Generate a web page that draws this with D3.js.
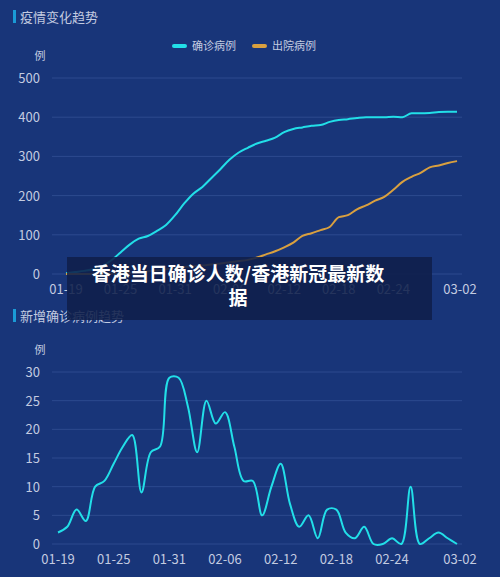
<!DOCTYPE html>
<html><head><meta charset="utf-8">
<script src="https://cdn.jsdelivr.net/npm/d3@7.9.0/dist/d3.min.js"></script>
<style>
body{margin:0;background:#183579;font-family:"Noto Sans CJK SC",sans-serif;}
</style></head><body>
<svg id="c" width="500" height="577"></svg>
<script>
// 2020-01-19 .. 2020-03-02
const dates = d3.timeDays(new Date(2020,0,19), new Date(2020,2,3));
const tickLabels = ['01-19','01-25','01-31','02-06','02-12','02-18','02-24','03-02'];
const confirmed = [2,5,8,12,20,35,55,75,90,97,110,125,150,180,205,222,245,268,292,310,322,333,340,348,362,370,374,378,380,388,393,395,398,400,400,400,401,400,410,410,411,413,414,414];
const discharged = [0,0,0,0,1,1,2,3,5,7,9,12,15,18,20,22,24,27,30,33,36,42,50,58,68,80,97,104,112,120,145,150,165,175,187,197,215,235,248,258,272,277,283,288];
const daily = [2,3,6,4,10,11,14,17,19,9,16,17,29,29,24,16,25,21,23,17,11,11,5,10,14,7,3,5,1,6,6,2,1,3,0,0,1,0,10,0,1,2,1,0];

const svg = d3.select('#c');
const txt = '#c3cbe0';

function panel(top, title, yMax, yStep, x0, series, legend) {
  svg.append('rect').attr('x',13).attr('y',top-7).attr('width',3).attr('height',13).attr('fill','#1a9ad6');
  svg.append('text').attr('x',20).attr('y',top+5).attr('fill',txt).attr('font-size',13).text(title);
  const y0 = top === 17 ? 274 : 544, y1 = top === 17 ? 78 : 372;
  const x = d3.scaleTime().domain([dates[0], dates[dates.length-1]]).range([x0, 457]);
  const y = d3.scaleLinear().domain([0, yMax]).range([y0, y1]);
  const g = svg.append('g');
  g.selectAll('line.grid').data(d3.range(0, yMax+1, yStep)).join('line')
    .attr('x1', 52).attr('x2', 462).attr('y1', d=>y(d)).attr('y2', d=>y(d))
    .attr('stroke','#2d4a8f').attr('stroke-width',1);
  g.selectAll('text.yl').data(d3.range(0, yMax+1, yStep)).join('text')
    .attr('x', 40).attr('y', d=>y(d)+5).attr('text-anchor','end')
    .attr('fill',txt).attr('font-size',13).text(d=>d);
  g.append('text').attr('x',40).attr('y',y1-18).attr('text-anchor','middle').attr('fill',txt).attr('font-size',11).text('例');
  const parse = d3.timeParse('%Y-%m-%d');
  g.selectAll('text.xl').data(tickLabels).join('text')
    .attr('x', d=>x(parse('2020-'+d)) + (d==='03-02'?3:0))
    .attr('y', y0+20).attr('text-anchor','middle').attr('fill',txt).attr('font-size',13).text(d=>d);
  series.forEach(s => {
    const line = d3.line().x((d,i)=>x(dates[i])).y(d=>y(d)).curve(s.curve);
    g.append('path').datum(s.values).attr('d', line).attr('fill','none')
      .attr('stroke', s.color).attr('stroke-width', 2);
  });
  if (legend) {
    let lx = 172;
    series.forEach(s => {
      svg.append('rect').attr('x',lx).attr('y',44).attr('width',15).attr('height',4).attr('rx',2).attr('fill',s.color);
      svg.append('text').attr('x',lx+20).attr('y',50).attr('fill',txt).attr('font-size',11).text(s.name);
      lx += 80;
    });
  }
}

panel(17, '疫情变化趋势', 500, 100, 66, [
  {name:'确诊病例', values: confirmed, color:'#22dfe8', curve: d3.curveMonotoneX},
  {name:'出院病例', values: discharged, color:'#d9a03f', curve: d3.curveMonotoneX}
], true);
panel(316, '新增确诊病例趋势', 30, 5, 58, [
  {name:'新增', values: daily, color:'#22dfe8', curve: d3.curveCatmullRom.alpha(0.5)}
], false);

// caption banner
svg.append('rect').attr('x',67).attr('y',257).attr('width',365).attr('height',63).attr('fill','#0f1f4a').attr('opacity',0.88);
svg.append('text').attr('x',238).attr('y',281).attr('text-anchor','middle').attr('fill','#fff')
  .attr('font-size',19).attr('font-weight','bold').text('香港当日确诊人数/香港新冠最新数');
svg.append('text').attr('x',238).attr('y',305).attr('text-anchor','middle').attr('fill','#fff')
  .attr('font-size',19).attr('font-weight','bold').text('据');
</script>
</body></html>
